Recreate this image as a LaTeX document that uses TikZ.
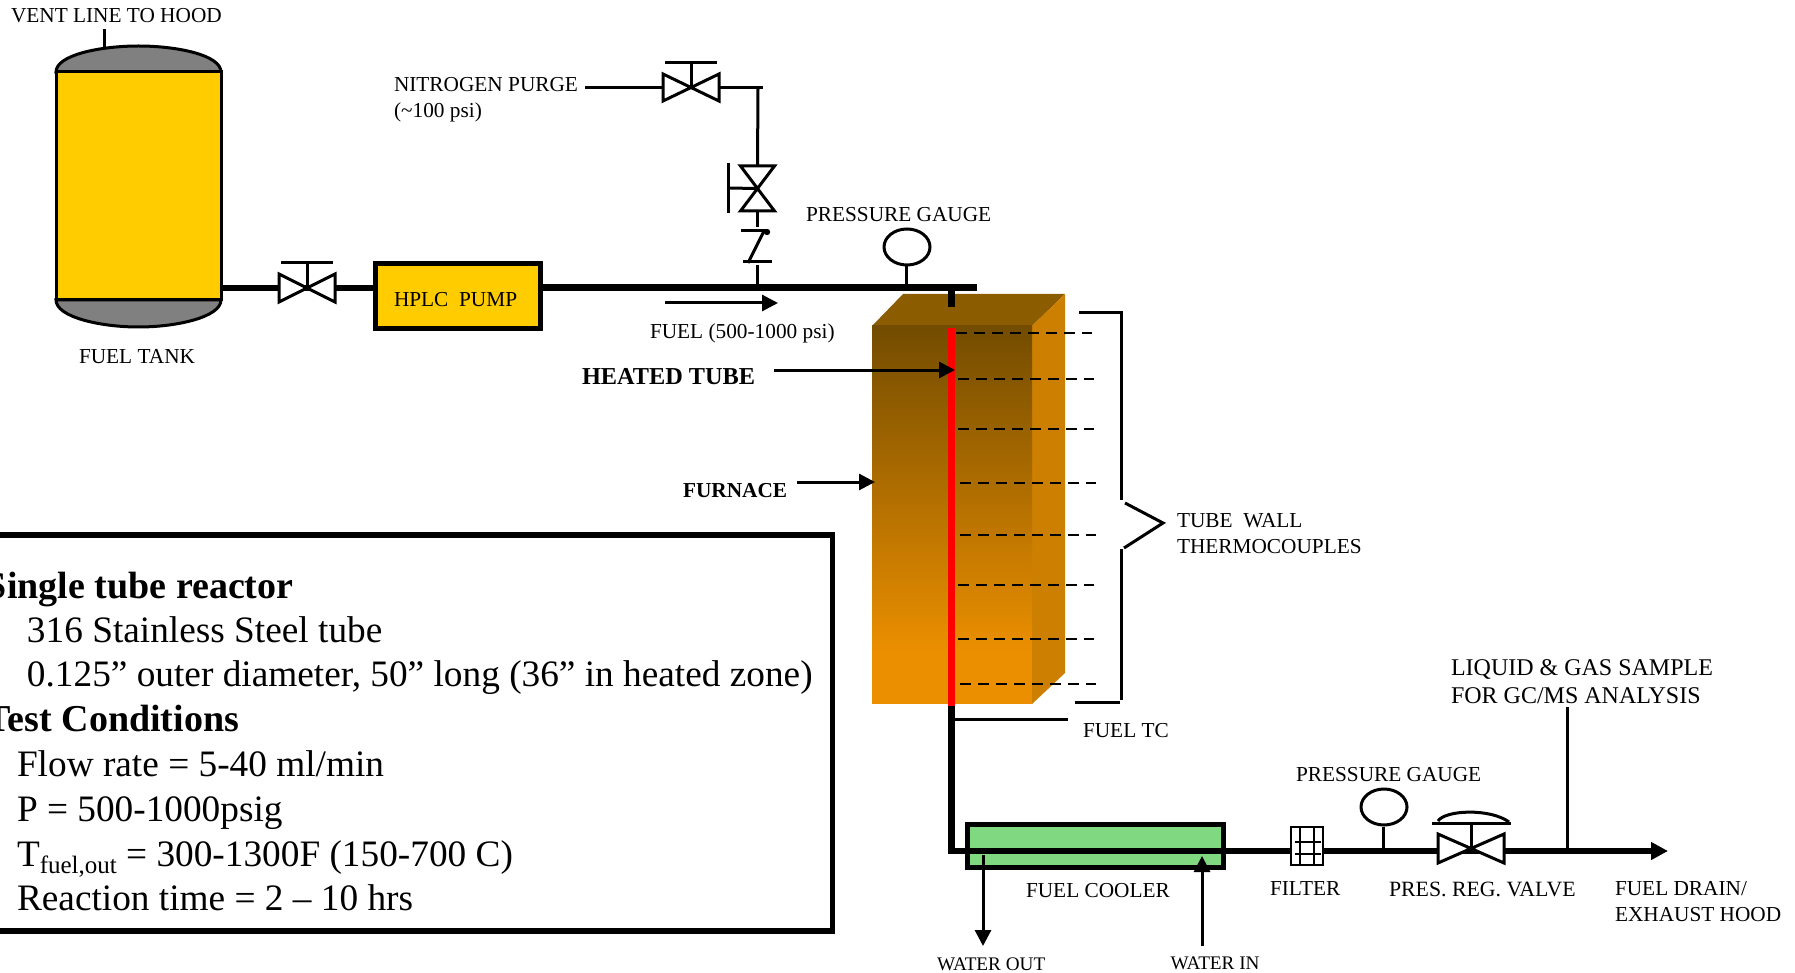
\documentclass[tikz,border=0pt]{standalone}
\usepackage{fontspec}
\setmainfont{Liberation Serif}
\usetikzlibrary{shapes.geometric,arrows.meta,calc}
\definecolor{tankyellow}{HTML}{FFCC00}
\definecolor{tankgray}{HTML}{808080}
\definecolor{coolgreen}{HTML}{80D880}
\definecolor{furntop}{HTML}{8C5C00}
\definecolor{furnside}{HTML}{CC7F00}
\definecolor{furndark}{HTML}{734C00}
\definecolor{furnlight}{HTML}{EB8F00}
\definecolor{tubered}{HTML}{FF0000}
\tikzset{
  lbl/.style={anchor=base west,inner sep=0pt,outer sep=0pt,font=\fontsize{21.3}{24}\selectfont},
  lblwide/.style={lbl,font=\fontsize{24}{28}\selectfont},
  lblreg/.style={lbl,font=\fontsize{21.8}{24}\selectfont},
  lblsmall/.style={lbl,font=\fontsize{19.2}{22}\selectfont},
  lblbold/.style={lbl,font=\fontsize{24.3}{28}\selectfont\bfseries},
  lblboldsmall/.style={lbl,font=\fontsize{21.3}{24}\selectfont\bfseries},
  info/.style={lbl,font=\fontsize{37.3}{44}\selectfont},
  infobold/.style={lbl,font=\fontsize{38}{44}\selectfont\bfseries},
  pipe/.style={line width=6.6pt,black},
  thinpipe/.style={line width=3pt,black},
  flow/.style={line width=3pt,-{Triangle[length=16pt,width=16pt]}},
  tcdash/.style={line width=2.8pt,dash pattern=on 10.5pt off 7.5pt},
  valvebody/.style={line width=3pt,fill=white,line join=miter},
  gaugebody/.style={ellipse,draw,line width=3pt,fill=white,minimum width=46pt,minimum height=36pt,inner sep=0pt},
  boxed/.style={rectangle,draw,line width=5.5pt,inner sep=0pt,anchor=center},
}
\newcommand{\hvalve}[3]{%
  \draw[valvebody] ($(#1)+(-#2,-#3)$) -- ($(#1)+(#2,#3)$) -- ($(#1)+(#2,-#3)$) -- ($(#1)+(-#2,#3)$) -- cycle;}
\newcommand{\vvalve}[3]{%
  \draw[valvebody] ($(#1)+(-#2,-#3)$) -- ($(#1)+(#2,-#3)$) -- ($(#1)+(-#2,#3)$) -- ($(#1)+(#2,#3)$) -- cycle;}
\begin{document}
\begin{tikzpicture}[x=1pt,y=-1pt]
\clip (0,0) rectangle (1795,973);
\fill[white] (0,0) rectangle (1795,973);

% ---------- named points
\coordinate (tankR) at (221,288);
\coordinate (v1) at (307,288);
\coordinate (v1s) at (307,263);
\coordinate (v1a) at (281,263);
\coordinate (v1b) at (333,263);
\coordinate (ventA) at (104,29);
\coordinate (ventB) at (104,47);
\coordinate (pipeEnd) at (977,287.5);
\coordinate (n2start) at (585,88);
\coordinate (v2) at (691,87.5);
\coordinate (v2s) at (691,63);
\coordinate (v2a) at (665,63);
\coordinate (v2b) at (717,63);
\coordinate (n2end) at (763,87.5);
\coordinate (n2c) at (758,87.5);
\coordinate (v3) at (757.5,188.5);
\coordinate (v3s) at (727,188);
\coordinate (v3a) at (728,163);
\coordinate (v3b) at (728,213);
\coordinate (v3top) at (757.5,166);
\coordinate (v3bot) at (757.5,211);
\coordinate (chk1) at (757.5,227);
\coordinate (chk2) at (757.5,265);
\coordinate (chk3) at (757.5,287.5);
\coordinate (cvA) at (741,231);
\coordinate (cvB) at (767,231);
\coordinate (cvC) at (764,231);
\coordinate (cvD) at (748,263);
\coordinate (cvE) at (743,262);
\coordinate (cvF) at (772,262);
\coordinate (g1foot) at (906,287.5);
\coordinate (stubA) at (951.5,287.5);
\coordinate (stubB) at (951.5,307);
\coordinate (tubeA) at (951.5,328);
\coordinate (tubeB) at (951.5,706);
\coordinate (corner) at (951.5,851);
\coordinate (pipeL) at (948,851);
\coordinate (v4) at (1471,848.5);
\coordinate (g2foot) at (1383,851);
\coordinate (sampleA) at (1567,707);
\coordinate (sampleB) at (1567,851);
\coordinate (drainEnd) at (1668,851);

% ---------- furnace
\fill[furntop] (872,326) -- (903,294) -- (1065,294) -- (1032,326) -- cycle;
\fill[furnside] (1032,326) -- (1065,294) -- (1065,673) -- (1032,704) -- cycle;
\fill[furnlight] (872,650) rectangle (1032,704);
\shade[top color=furndark,bottom color=furnlight] (872,326) rectangle (1032,652);

% ---------- tank
\draw[fill=tankgray,line width=3pt] (56,72) .. controls (56,55) and (100,46) .. (138.5,46) .. controls (177,46) and (221,55) .. (221,72) -- cycle;
\draw[fill=tankgray,line width=3pt] (56,300) .. controls (56,317) and (100,327) .. (138.5,327) .. controls (177,327) and (221,317) .. (221,300) -- cycle;
\node[draw,line width=3pt,fill=tankyellow,inner sep=0pt,minimum width=165pt,minimum height=228pt] (tank) at (138.5,186) {};
\draw[thinpipe] (ventA) -- (ventB);

% ---------- main line
\node[boxed,fill=tankyellow,minimum width=165pt,minimum height=65pt] (pump) at (458,296) {};
\draw[pipe] (tankR) -- (v1);
\draw[pipe] (v1) -- (pump.west |- v1);
\draw[pipe] (pump.east |- pipeEnd) -- (pipeEnd);
\hvalve{v1}{28}{14}
\draw[thinpipe] (v1) -- (v1s);
\draw[thinpipe] (v1a) -- (v1b);

% ---------- nitrogen purge
\draw[thinpipe] (n2start |- v2) -- (v2);
\draw[thinpipe] (v2) -- (n2end);
\draw[thinpipe] (n2c) -- (v3top);
\hvalve{v2}{28}{13.5}
\draw[thinpipe] (v2) -- (v2s);
\draw[thinpipe] (v2a) -- (v2b);
\vvalve{v3}{17}{22.5}
\draw[thinpipe] (v3) -- (v3s);
\draw[thinpipe] (v3a) -- (v3b);
\draw[thinpipe] (v3bot) -- (chk1);
\draw[thinpipe] (cvA) -- (cvB);
\draw[thinpipe] (cvC) -- (cvD);
\draw[thinpipe] (cvE) -- (cvF);
\fill[black] (767,232) circle (3.2pt);
\draw[thinpipe] (chk2) -- (chk3);

% ---------- first gauge
\node[gaugebody] (g1) at (907,247) {};
\draw[thinpipe] (g1.south -| g1foot) -- (g1foot);

% ---------- heated tube
\draw[pipe] (stubA) -- (stubB);
\draw[line width=6.4pt,tubered] (tubeA) -- (tubeB);
\draw[pipe] (tubeB) -- (corner);

% ---------- thermocouples
\foreach \nm/\xa/\xb/\yy in {a/956/1092/333,b/958/1094/379,c/958/1094/429,d/960/1096/483,e/960/1096/535,f/958/1094/585,g/958/1094/639,h/960/1096/684}{
  \coordinate (tc\nm a) at (\xa,\yy);
  \coordinate (tc\nm b) at (\xb,\yy);
  \draw[tcdash] (tc\nm a) -- (tc\nm b);
}
\coordinate (brA) at (1079,313);
\coordinate (brB) at (1121,313);
\coordinate (brC) at (1121,500);
\coordinate (brD) at (1121,549);
\coordinate (brE) at (1121,700);
\coordinate (brF) at (1120,702);
\coordinate (brG) at (1075,702);
\coordinate (chA) at (1125,503);
\coordinate (chB) at (1163,523);
\coordinate (chC) at (1124,548);
\draw[thinpipe] (brA) -- (brB) -- (brC);
\draw[thinpipe] (brD) -- (brE);
\draw[thinpipe] (brF) -- (brG);
\draw[thinpipe,line join=miter] (chA) -- (chB) -- (chC);

% ---------- fuel TC
\coordinate (tcA) at (951,719);
\coordinate (tcB) at (1068,719);
\draw[thinpipe] (tcA) -- (tcB);

% ---------- bottom line
\node[boxed,fill=coolgreen,minimum width=256pt,minimum height=43pt] (cooler) at (1095.5,846) {};
\node[rectangle,draw,line width=2.4pt,fill=white,inner sep=0pt,minimum width=32pt,minimum height=38pt] (filter) at (1307,846) {};
\draw[pipe] (pipeL) -- (filter.west |- pipeL);
\draw[pipe] (filter.east |- g2foot) -- (v4 |- g2foot);
\draw[pipe,-{Triangle[length=17pt,width=17pt]},shorten >=0pt] (v4 |- g2foot) -- (drainEnd);
\foreach \nm/\xx in {a/1300,b/1314}{
  \coordinate (fv\nm a) at (\xx,828);
  \coordinate (fv\nm b) at (\xx,864);
  \draw[line width=2.4pt] (fv\nm a) -- (fv\nm b);
}
\foreach \nm/\yy in {a/842,b/854}{
  \coordinate (fh\nm a) at (1295,\yy);
  \coordinate (fh\nm b) at (1321,\yy);
  \draw[line width=2.4pt] (fh\nm a) -- (fh\nm b);
}
\node[gaugebody] (g2) at (1384,807) {};
\draw[thinpipe] (g2.south -| g2foot) -- (g2foot);
\hvalve{v4}{33}{14.5}
\coordinate (v4s) at (1471,823);
\coordinate (v4a) at (1432,823);
\coordinate (v4b) at (1511,823);
\draw[thinpipe] (v4) -- (v4s);
\draw[thinpipe] (v4a) -- (v4b);
\draw[thinpipe] (1438,821) .. controls (1445,810) and (1490,808) .. (1509,822);
\draw[thinpipe] (sampleA) -- (sampleB);

% ---------- water lines
\coordinate (wo1) at (983,855);
\coordinate (wo2) at (983,946);
\coordinate (wi1) at (1202,946);
\coordinate (wi2) at (1202,856);
\draw[flow] (wo1) -- (wo2);
\draw[flow] (wi1) -- (wi2);

% ---------- pointer arrows
\coordinate (fA) at (665,303);
\coordinate (fB) at (778,303);
\draw[flow] (fA) -- (fB);
\coordinate (htA) at (774,370);
\coordinate (htB) at (955,370);
\draw[flow] (htA) -- (htB);
\coordinate (fuA) at (797,482);
\coordinate (fuB) at (875,482);
\draw[flow] (fuA) -- (fuB);

% ---------- info box
\node[boxed,minimum width=853pt,minimum height=396pt] (infobox) at (406,733) {};
\node[infobold] (i1) at (-14,598) {Single tube reactor};
\node[info] (i2) at (27,642.5) {316 Stainless Steel tube};
\node[info] (i3) at (27,686.5) {0.125” outer diameter, 50” long (36” in heated zone)};
\node[infobold] (i4) at (-14,731) {Test Conditions};
\node[info] (i5) at (17,776) {Flow rate = 5-40 ml/min};
\node[info] (i6) at (17,821) {P = 500-1000psig};
\node[info] (i7) at (17,866) {T\raisebox{-7pt}{\fontsize{25}{28}\selectfont fuel,out} = 300-1300F (150-700 C)};
\node[info] (i8) at (17,910) {Reaction time = 2 – 10 hrs};

% ---------- labels
\node[lbl] (t1) at (11,23) {VENT LINE TO HOOD};
\node[lbl] (t2) at (394,92) {NITROGEN PURGE};
\node[lbl] (t3) at (394,118) {(\textasciitilde 100 psi)};
\node[lbl] (t4) at (79,363) {FUEL TANK};
\node[lbl] at (394,307) (t5) {HPLC\ \ PUMP};
\node[lbl] (t6) at (806,222) {PRESSURE GAUGE};
\node[lbl] (t7) at (650,338) {FUEL (500-1000 psi)};
\node[lblbold] (t8) at (582,384) {HEATED TUBE};
\node[lblboldsmall] (t9) at (683,497) {FURNACE};
\node[lbl] (t10) at (1177,527) {TUBE\ \ WALL};
\node[lbl] (t11) at (1177,553) {THERMOCOUPLES};
\node[lbl] (t12) at (1083,737) {FUEL TC};
\node[lblwide] (t13) at (1451,675) {LIQUID \& GAS SAMPLE};
\node[lblwide] (t14) at (1451,703) {FOR GC/MS ANALYSIS};
\node[lbl] (t15) at (1296,781) {PRESSURE GAUGE};
\node[lbl] (t16) at (1026,897) {FUEL COOLER};
\node[lbl] (t17) at (1270,895) {FILTER};
\node[lblreg] (t18) at (1389,896) {PRES. REG. VALVE};
\node[lbl] (t19) at (1615,895) {FUEL DRAIN/};
\node[lbl] (t20) at (1615,921.5) {EXHAUST HOOD};
\node[lblsmall] (t21) at (937,970) {WATER OUT};
\node[lblsmall] (t22) at (1170.5,969) {WATER IN};
\end{tikzpicture}
\end{document}
